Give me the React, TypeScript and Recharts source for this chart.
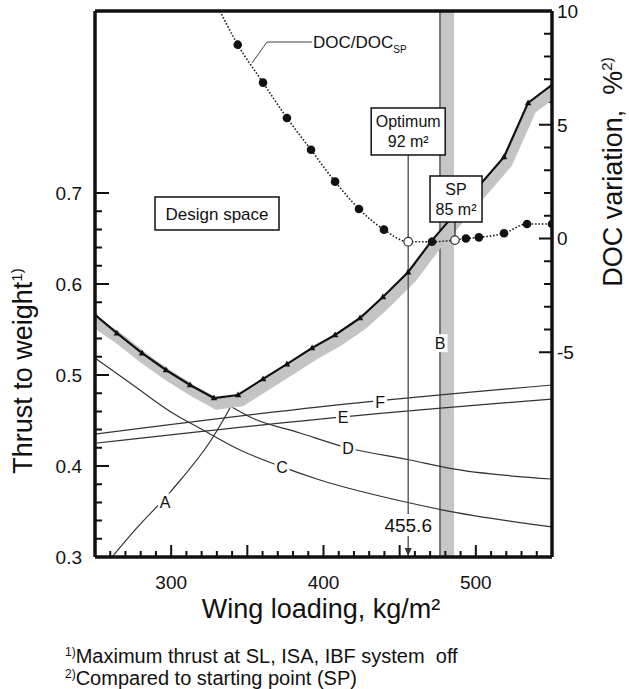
import React from "react";
import {
  ComposedChart,
  Line,
  XAxis,
  YAxis,
  ReferenceArea,
  ReferenceLine,
  ReferenceDot,
} from "recharts";

// thrust-to-weight boundary of the design space (wing loading kg/m², T/W)
const envelopeWL = [250, 264.4, 280.9, 296.6, 312.4, 328.1, 343.9, 360.3, 376, 392.5, 407.6, 424, 439, 455.5, 471.2, 518.5, 534.3, 550];
const envelopeTW = [0.566, 0.546, 0.524, 0.5055, 0.489, 0.4747, 0.478, 0.4956, 0.512, 0.5297, 0.544, 0.5626, 0.5857, 0.613, 0.648, 0.7396, 0.799, 0.8187];

// grey band running along the outside of the boundary
const shadowWL = [250, 266.4, 282.9, 298.6, 314.4, 330.1, 345.9, 362.3, 378, 394.5, 409.6, 426, 441, 457.5, 473.2, 520.5, 536.3, 552];
const shadowTW = [0.558, 0.5394, 0.5174, 0.4989, 0.4824, 0.4681, 0.4714, 0.489, 0.5054, 0.5231, 0.5374, 0.556, 0.5791, 0.6064, 0.6414, 0.733, 0.7924, 0.8121];

// individual constraints
const curveAWL = [261.2, 276.3, 300.5, 327.5, 336.7, 343.2];
const curveATW = [0.3, 0.3297, 0.3736, 0.4319, 0.458, 0.478];

const curveCWL = [250, 274.9, 301.2, 320.9, 345.2, 372.8, 397.7, 456.8, 478.5, 550];
const curveCTW = [0.5187, 0.489, 0.458, 0.4396, 0.4176, 0.399, 0.3846, 0.3593, 0.3516, 0.333];

const curveDWL = [338.6, 351.8, 384.6, 416.1, 456.8, 481.1, 550];
const curveDTW = [0.4659, 0.4538, 0.4363, 0.4198, 0.4066, 0.398, 0.3857];

const curveEWL = [250, 397.7, 550];
const curveETW = [0.425, 0.4516, 0.4736];

const curveFWL = [250, 397.7, 550];
const curveFTW = [0.435, 0.465, 0.489];

// DOC change against the starting point, %
const docWL = [332, 343.7, 360.3, 376, 391.8, 407.6, 423.3, 439.7, 455.6, 471.2, 486.3, 493.5, 502, 518.5, 533.6, 550];
const docDelta = [10, 8.52, 6.85, 5.3, 3.9, 2.5, 1.3, 0.39, -0.14, -0.14, -0.07, 0, 0.05, 0.23, 0.64, 0.64];
const docMarker = ["none", "filled", "filled", "filled", "filled", "filled", "filled", "filled", "open", "filled", "open", "filled", "filled", "filled", "filled", "filled"];

// leader from the DOC curve to its label
const leaderWL = [353.1, 362.9, 392.5];
const leaderTW = [0.8429, 0.8659, 0.8659];

const optimumWL = 455.6;
const spWL = 486.3;
const bandB = [476.5, 485.7];

const xDomain = [250, 550];
const leftDomain = [0.3, 0.9];
const rightDomain = [-14, 10];

const xTicks = Array.from({ length: 31 }, (_, i) => 250 + i * 10);
const leftTicks = Array.from({ length: 21 }, (_, i) => Math.round((0.3 + i * 0.02) * 100) / 100);
const rightTicks = Array.from({ length: 16 }, (_, i) => -5 + i);

const pts = (xs: number[], ys: number[]) => xs.map((wl, i) => ({ wl, v: ys[i] }));

const envelope = pts(envelopeWL, envelopeTW);
const shadow = pts(shadowWL, shadowTW);
const curveA = pts(curveAWL, curveATW);
const curveC = pts(curveCWL, curveCTW);
const curveD = pts(curveDWL, curveDTW);
const curveE = pts(curveEWL, curveETW);
const curveF = pts(curveFWL, curveFTW);
const leader = pts(leaderWL, leaderTW);
const doc = docWL.map((wl, i) => ({ wl, v: docDelta[i], marker: docMarker[i] }));

const INK = "#111";
const THIN = "#333";

// plot box size, used to turn inward tick lengths (px) into axis units
const W = 629;
const H = 689;
const MARGIN = { top: 11, right: 27, bottom: 92, left: 35 };
const LEFT_W = 60;
const RIGHT_W = 50;
const X_H = 40;
const plotW = W - MARGIN.left - MARGIN.right - LEFT_W - RIGHT_W;
const plotH = H - MARGIN.top - MARGIN.bottom - X_H;
const wlPx = (xDomain[1] - xDomain[0]) / plotW;
const twPx = (leftDomain[1] - leftDomain[0]) / plotH;

const xMajor = (v: number) => v % 50 === 0;
const leftMajor = (v: number) => Math.round(v * 100) % 10 === 0;
const rightMajor = (v: number) => v % 5 === 0;

// inward tick marks as broken polylines (a null point ends each stroke)
const xTickMarks = xTicks.flatMap((t) => [
  { wl: t, v: leftDomain[0] },
  { wl: t, v: leftDomain[0] + (xMajor(t) ? 12 : 6) * twPx },
  { wl: t, v: null },
]);
const leftTickMarks = leftTicks.flatMap((t) => [
  { wl: xDomain[0], v: t },
  { wl: xDomain[0] + (leftMajor(t) ? 14 : 7) * wlPx, v: t },
  { wl: xDomain[0], v: null },
]);
const rightTickMarks = rightTicks.flatMap((t) => [
  { wl: xDomain[1] - (rightMajor(t) ? 13 : 8) * wlPx, v: t },
  { wl: xDomain[1], v: t },
  { wl: xDomain[1], v: null },
]);

const xLabel = (p: any) => {
  const v = p.payload.value;
  if (v % 100 !== 0) return <g />;
  return (
    <text x={p.x} y={p.y + 32} textAnchor="middle" fontSize={19} fill={INK}>
      {v}
    </text>
  );
};

const leftLabel = (p: any) => {
  const v = p.payload.value;
  if (!leftMajor(v)) return <g />;
  return (
    <text x={p.x - 13} y={p.y} dy="0.36em" textAnchor="end" fontSize={19} fill={INK}>
      {v.toFixed(1)}
    </text>
  );
};

const rightLabel = (p: any) => {
  const v = p.payload.value;
  if (!rightMajor(v)) return <g />;
  return (
    <text x={p.x + 5} y={p.y} dy="0.36em" textAnchor="start" fontSize={19} fill={INK}>
      {v}
    </text>
  );
};

const TriangleDot = ({ cx, cy }: any) => (
  <path d={`M${cx},${cy - 3.5}L${cx + 3.3},${cy + 2.3}L${cx - 3.3},${cy + 2.3}Z`} fill={INK} />
);

const DocDot = ({ cx, cy, payload }: any) => {
  if (payload.marker === "filled") return <circle cx={cx} cy={cy} r={4.3} fill={INK} />;
  if (payload.marker === "open")
    return <circle cx={cx} cy={cy} r={4.3} fill="#fff" stroke="#333" strokeWidth={1.2} />;
  return <g />;
};

// curve letter sitting on a white patch that breaks the line
const tag = (text: string, w: number) => (p: any) => (
  <g>
    <rect x={p.cx - w / 2} y={p.cy - 9} width={w} height={18} fill="#fff" />
    <text x={p.cx} y={p.cy} dy="0.36em" textAnchor="middle" fontSize={16} fill={INK}>
      {text}
    </text>
  </g>
);

const box = (lines: string[], w: number, h: number, size: number) => (p: any) => (
  <g>
    <rect x={p.cx - w / 2} y={p.cy - h / 2} width={w} height={h} fill="#fff" stroke={INK} strokeWidth={1.5} />
    {lines.map((t, i) => (
      <text
        key={t}
        x={p.cx}
        y={p.cy + (i - (lines.length - 1) / 2) * 20}
        dy="0.36em"
        textAnchor="middle"
        fontSize={size}
        fill={INK}
      >
        {t}
      </text>
    ))}
  </g>
);

const arrowHead = (p: any) => (
  <path d={`M${p.cx},${p.cy - 1}L${p.cx - 3.5},${p.cy - 9}L${p.cx + 3.5},${p.cy - 9}Z`} fill="#333" />
);

const docLabel = (p: any) => (
  <text x={p.cx} y={p.cy} dy="0.36em" fontSize={17} fill={INK}>
    DOC/DOC
    <tspan dy={5} fontSize={10}>
      SP
    </tspan>
  </text>
);

const optimumLabel = (p: any) => (
  <g>
    <rect x={p.cx - 27} y={p.cy - 11} width={54} height={22} fill="#fff" />
    <text x={p.cx} y={p.cy} dy="0.36em" textAnchor="middle" fontSize={19} fill={INK}>
      {String(optimumWL)}
    </text>
  </g>
);

export default function App() {
  return (
    <div style={{ fontFamily: "'Liberation Sans', Arial, sans-serif" }}>
      <style>{"html,body{margin:0;overflow:hidden;background:#fff}"}</style>
      <ComposedChart width={W} height={H} margin={MARGIN}>
        <XAxis
          dataKey="wl"
          type="number"
          domain={xDomain}
          ticks={xTicks}
          interval={0}
          tickSize={0}
          tickMargin={0}
          tickLine={false}
          tick={xLabel}
          height={X_H}
          allowDataOverflow
          axisLine={{ stroke: INK, strokeWidth: 3.5 }}
        />
        <YAxis
          yAxisId="left"
          type="number"
          domain={leftDomain}
          ticks={leftTicks}
          interval={0}
          tickSize={0}
          tickMargin={0}
          tickLine={false}
          tick={leftLabel}
          width={LEFT_W}
          allowDataOverflow
          axisLine={{ stroke: INK, strokeWidth: 3.5 }}
        />
        <YAxis
          yAxisId="right"
          orientation="right"
          type="number"
          domain={rightDomain}
          ticks={rightTicks}
          interval={0}
          tickSize={0}
          tickMargin={0}
          tickLine={false}
          tick={rightLabel}
          width={RIGHT_W}
          allowDataOverflow
          axisLine={{ stroke: INK, strokeWidth: 3.5 }}
        />

        <ReferenceArea yAxisId="left" x1={bandB[0]} x2={bandB[1]} y1={0.3} y2={0.9} fill="#c6c6c6" fillOpacity={1} stroke="none" />
        <ReferenceLine yAxisId="left" x={bandB[0]} stroke="#777" strokeWidth={2} />

        <Line yAxisId="left" data={xTickMarks} dataKey="v" type="linear" stroke={INK} strokeWidth={2} dot={false} connectNulls={false} isAnimationActive={false} />
        <Line yAxisId="left" data={leftTickMarks} dataKey="v" type="linear" stroke={INK} strokeWidth={2} dot={false} connectNulls={false} isAnimationActive={false} />
        <Line yAxisId="right" data={rightTickMarks} dataKey="v" type="linear" stroke={INK} strokeWidth={2} dot={false} connectNulls={false} isAnimationActive={false} />

        <Line yAxisId="left" data={curveA} dataKey="v" type="monotone" stroke={THIN} strokeWidth={1.2} dot={false} isAnimationActive={false} />
        <Line yAxisId="left" data={curveC} dataKey="v" type="monotone" stroke={THIN} strokeWidth={1.2} dot={false} isAnimationActive={false} />
        <Line yAxisId="left" data={curveD} dataKey="v" type="monotone" stroke={THIN} strokeWidth={1.2} dot={false} isAnimationActive={false} />
        <Line yAxisId="left" data={curveE} dataKey="v" type="monotone" stroke={THIN} strokeWidth={1.2} dot={false} isAnimationActive={false} />
        <Line yAxisId="left" data={curveF} dataKey="v" type="monotone" stroke={THIN} strokeWidth={1.2} dot={false} isAnimationActive={false} />

        <Line yAxisId="left" data={shadow} dataKey="v" type="linear" stroke="#c4c4c4" strokeWidth={11} dot={false} isAnimationActive={false} />
        <Line
          yAxisId="left"
          data={envelope}
          dataKey="v"
          type="linear"
          stroke={INK}
          strokeWidth={2.2}
          dot={<TriangleDot />}
          isAnimationActive={false}
        />

        <Line
          yAxisId="right"
          data={doc}
          dataKey="v"
          type="monotone"
          stroke="#222"
          strokeWidth={1.6}
          strokeDasharray="1.6 1.8"
          dot={<DocDot />}
          isAnimationActive={false}
        />
        <Line yAxisId="left" data={leader} dataKey="v" type="linear" stroke="#444" strokeWidth={1} dot={false} isAnimationActive={false} />

        <ReferenceLine
          yAxisId="left"
          segment={[{ x: optimumWL, y: 0.7418 }, { x: optimumWL, y: 0.3 }]}
          stroke="#555"
          strokeWidth={1.4}
        />
        <ReferenceLine
          yAxisId="left"
          segment={[{ x: spWL, y: 0.668 }, { x: spWL, y: 0.6527 }]}
          stroke="#333"
          strokeWidth={1.4}
        />
        <ReferenceLine yAxisId="left" y={0.9} stroke={INK} strokeWidth={3.5} />

        <ReferenceDot yAxisId="left" x={optimumWL} y={0.3} r={0} shape={arrowHead} />
        <ReferenceDot yAxisId="left" x={optimumWL} y={0.335} r={0} shape={optimumLabel} />
        <ReferenceDot yAxisId="left" x={296} y={0.36} r={0} shape={tag("A", 14)} />
        <ReferenceDot yAxisId="left" x={476.5} y={0.535} r={0} shape={tag("B", 15)} />
        <ReferenceDot yAxisId="left" x={372.8} y={0.399} r={0} shape={tag("C", 15)} />
        <ReferenceDot yAxisId="left" x={416.1} y={0.4198} r={0} shape={tag("D", 15)} />
        <ReferenceDot yAxisId="left" x={412.8} y={0.4538} r={0} shape={tag("E", 14)} />
        <ReferenceDot yAxisId="left" x={437.1} y={0.4703} r={0} shape={tag("F", 14)} />
        <ReferenceDot yAxisId="left" x={330.1} y={0.6775} r={0} shape={box(["Design space"], 124, 33, 17)} />
        <ReferenceDot yAxisId="left" x={optimumWL} y={0.7676} r={0} shape={box(["Optimum", "92 m²"], 74, 47, 16)} />
        <ReferenceDot yAxisId="left" x={spWL + 0.7} y={0.6934} r={0} shape={box(["SP", "85 m²"], 52, 46, 16)} />
        <ReferenceDot yAxisId="left" x={393.1} y={0.8659} r={0} shape={docLabel} />

        <text x={32} y={371} transform="rotate(-90 32 371)" textAnchor="middle" fontSize={27} fill={INK}>
          Thrust to weight
          <tspan dy={-10} fontSize={15}>
            1)
          </tspan>
        </text>
        <text
          x={622}
          y={172}
          transform="rotate(-90 622 172)"
          textAnchor="middle"
          fontSize={27}
          fill={INK}
          style={{ whiteSpace: "pre" }}
        >
          {"DOC variation,  %"}
          <tspan dy={-10} fontSize={15}>
            2)
          </tspan>
        </text>
        <text x={321} y={618} textAnchor="middle" fontSize={27} fill={INK}>
          Wing loading, kg/m²
        </text>
        <text x={65} y={663} fontSize={20} fill={INK} style={{ whiteSpace: "pre" }}>
          <tspan dy={-7} fontSize={12}>
            1)
          </tspan>
          <tspan dy={7}>{"Maximum thrust at SL, ISA, IBF system  off"}</tspan>
        </text>
        <text x={65} y={685} fontSize={20} fill={INK}>
          <tspan dy={-7} fontSize={12}>
            2)
          </tspan>
          <tspan dy={7}>Compared to starting point (SP)</tspan>
        </text>
      </ComposedChart>
    </div>
  );
}
